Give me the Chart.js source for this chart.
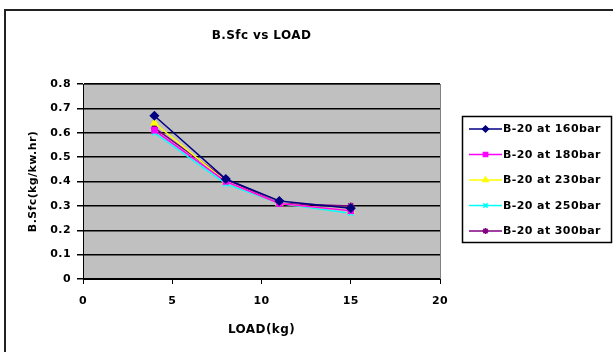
<!DOCTYPE html>
<html>
<head>
<meta charset="utf-8">
<script src="https://cdn.jsdelivr.net/npm/chart.js@4.4.0/dist/chart.umd.min.js"></script>
<style>
  body { margin: 0; background: #fff; }
  #wrap { width: 613px; height: 352px; }
</style>
</head>
<body>
<div id="wrap"><canvas id="myChart" width="613" height="352"></canvas></div>
<script>
const loads = [4, 8, 11, 15]

const seriesNames = [
  'B-20 at 160bar',
  'B-20 at 180bar',
  'B-20 at 230bar',
  'B-20 at 250bar',
  'B-20 at 300bar'
]

const sfc160 = [0.67, 0.41, 0.32, 0.29]
const sfc180 = [0.61, 0.40, 0.31, 0.28]
const sfc230 = [0.64, 0.40, 0.31, 0.28]
const sfc250 = [0.60, 0.39, 0.31, 0.27]
const sfc300 = [0.62, 0.41, 0.31, 0.30]

const xTicks = [0, 5, 10, 15, 20]
const yTicks = [0, 0.1, 0.2, 0.3, 0.4, 0.5, 0.6, 0.7, 0.8]

const seriesColors = ['#000080', '#ff00ff', '#ffff00', '#00ffff', '#800080']
const seriesMarkers = ['rectRot', 'rect', 'triangle', 'crossRot', 'star']

const allValues = [sfc160, sfc180, sfc230, sfc250, sfc300]

const fontName = '"DejaVu Sans", Verdana, sans-serif'
const spacing = '0.4px'

let datasets = []
for (let i = 0; i < allValues.length; i++) {
  datasets.push({
    label: seriesNames[i],
    data: loads.map((x, j) => ({ x: x, y: allValues[i][j] })),
    borderColor: seriesColors[i],
    backgroundColor: seriesColors[i],
    pointStyle: seriesMarkers[i],
    pointRadius: i == 0 ? 4 : 3.5,
    pointBorderWidth: 1.5,
    borderWidth: 1.5,
    tension: 0
  })
}

// the excel text is stretched wide, so widen all canvas text a bit
function widen(chart) {
  chart.ctx.letterSpacing = spacing
}

// grey plot area, outer frame, title and boxed legend
const excelLook = {
  id: 'excelLook',
  beforeLayout(chart) { widen(chart) },
  beforeDraw(chart) {
    widen(chart)
    let ctx = chart.ctx
    let a = chart.chartArea
    ctx.save()
    ctx.fillStyle = '#fff'
    ctx.fillRect(0, 0, chart.width, chart.height)
    ctx.strokeStyle = '#222'
    ctx.lineWidth = 2
    ctx.strokeRect(5, 10, 700, 400)
    ctx.fillStyle = '#c0c0c0'
    ctx.fillRect(a.left, a.top, a.right - a.left, a.bottom - a.top)
    ctx.strokeStyle = '#808080'
    ctx.lineWidth = 1
    ctx.strokeRect(a.left + 0.5, a.top + 0.5, a.right - a.left, a.bottom - a.top)
    ctx.restore()
  },
  afterDraw(chart) {
    let ctx = chart.ctx
    let a = chart.chartArea
    ctx.save()
    ctx.letterSpacing = spacing
    ctx.fillStyle = '#000'
    ctx.font = 'bold 12px ' + fontName
    ctx.textAlign = 'center'
    ctx.textBaseline = 'middle'
    ctx.fillText('B.Sfc vs LOAD', (a.left + a.right) / 2, 36)

    // legend box
    ctx.strokeStyle = '#000'
    ctx.lineWidth = 1.5
    ctx.strokeRect(462.5, 116.5, 149, 126)
    ctx.font = 'bold 11px ' + fontName
    ctx.textAlign = 'left'
    for (let i = 0; i < datasets.length; i++) {
      let ds = datasets[i]
      let y = 129 + i * 25.5
      ctx.strokeStyle = ds.borderColor
      ctx.fillStyle = ds.backgroundColor
      ctx.lineWidth = 1.5
      ctx.beginPath()
      ctx.moveTo(469, y)
      ctx.lineTo(502, y)
      ctx.stroke()
      Chart.helpers.drawPoint(ctx, {
        pointStyle: ds.pointStyle,
        radius: 3,
        rotation: 0,
        borderWidth: 1.5
      }, 485.5, y)
      ctx.fillStyle = '#000'
      ctx.fillText(ds.label, 503, y + 0.5)
    }
    ctx.restore()
  }
}

let config = {
  type: 'line',
  data: { datasets: datasets },
  plugins: [excelLook],
  options: {
    responsive: false,
    animation: false,
    devicePixelRatio: 1,
    layout: {
      padding: { top: 84, right: 173, bottom: 0, left: 0 }
    },
    plugins: {
      legend: { display: false },
      title: { display: false },
      tooltip: { enabled: false }
    },
    scales: {
      x: {
        type: 'linear',
        min: 0,
        max: 20,
        afterBuildTicks: (scale) => { scale.ticks = xTicks.map(v => ({ value: v })) },
        afterFit: (scale) => { scale.height = 73 },
        grid: {
          drawOnChartArea: false,
          drawTicks: true,
          tickLength: 5,
          color: '#000'
        },
        border: { display: true, color: '#000', width: 1 },
        ticks: {
          color: '#000',
          padding: 11,
          font: { family: fontName, size: 11, weight: 'bold' }
        },
        title: {
          display: true,
          text: 'LOAD(kg)',
          color: '#000',
          font: { family: fontName, size: 12, weight: 'bold' },
          padding: { top: 0, bottom: 15 }
        }
      },
      y: {
        type: 'linear',
        min: 0,
        max: 0.8,
        afterBuildTicks: (scale) => { scale.ticks = yTicks.map(v => ({ value: v })) },
        afterFit: (scale) => { scale.width = 83 },
        grid: {
          color: '#000',
          lineWidth: 1.5,
          drawTicks: true,
          tickLength: 6
        },
        border: { display: true, color: '#000', width: 1 },
        ticks: {
          color: '#000',
          padding: 6,
          font: { family: fontName, size: 11, weight: 'bold' }
        },
        title: {
          display: true,
          text: 'B.Sfc(kg/kw.hr)',
          color: '#000',
          font: { family: fontName, size: 11, weight: 'bold' },
          padding: { top: 27, bottom: 0 }
        }
      }
    }
  }
}

let myChart = new Chart(document.getElementById('myChart'), config)
</script>
</body>
</html>
